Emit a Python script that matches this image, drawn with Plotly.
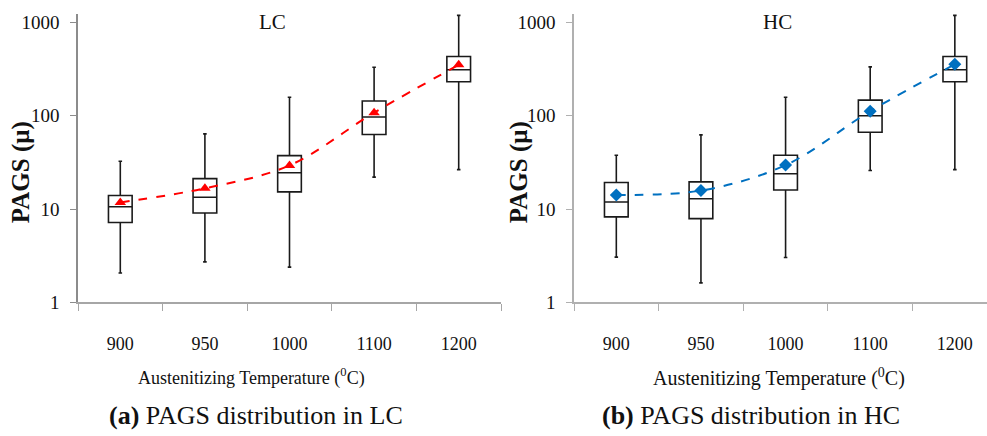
import plotly.graph_objects as go

# ---------------- data ----------------
temps = ["900", "950", "1000", "1100", "1200"]

lc_q1 = [7.2, 9.1, 15.3, 63, 231]
lc_med = [10.6, 13.4, 24.5, 97, 311]
lc_q3 = [14.0, 21.2, 37.4, 144, 432]
lc_lo = [2.07, 2.72, 2.39, 22, 26.5]
lc_hi = [32.6, 64, 158, 331, 1190]
lc_mean = [11.8, 16.7, 29.4, 108, 351]

hc_q1 = [8.25, 7.9, 16.0, 66.5, 231]
hc_med = [11.9, 12.9, 23.9, 100, 311]
hc_q3 = [19.3, 19.6, 37.7, 147, 432]
hc_lo = [3.06, 1.62, 3.03, 25.9, 26.5]
hc_hi = [37.7, 62.4, 158, 334, 1190]
hc_mean = [14.2, 15.8, 29.6, 112, 356]

ytick_vals = [1, 10, 100, 1000]
ytick_text = ["1", "10", "100", "1000"]

panel_titles = ["LC", "HC"]
y_title = "PAGS (μ)"
x_title = "Austenitizing Temperature (<sup>0</sup>C)"
captions = ["<b>(a)</b> PAGS distribution in LC", "<b>(b)</b> PAGS distribution in HC"]

# ---------------- figure ----------------
W, H = 987, 436
FONT = "Liberation Serif, Times New Roman, serif"


def px(x):
    return x / W


def py(y):
    return (H - y) / H


fig = go.Figure()

box_style = dict(
    fillcolor="white",
    line=dict(color="#1a1a1a", width=1.6),
    whiskerwidth=0.15,
    boxpoints=False,
    showlegend=False,
    hoverinfo="skip",
)

fig.add_trace(go.Box(x=temps, q1=lc_q1, median=lc_med, q3=lc_q3,
                     lowerfence=lc_lo, upperfence=lc_hi,
                     xaxis="x", yaxis="y", **box_style))
fig.add_trace(go.Scatter(x=temps, y=lc_mean, mode="lines+markers",
                         line=dict(color="#FF0000", width=2, dash="dash", shape="spline"),
                         marker=dict(symbol="triangle-up", size=10, color="#FF0000"),
                         xaxis="x", yaxis="y", showlegend=False))

fig.add_trace(go.Box(x=temps, q1=hc_q1, median=hc_med, q3=hc_q3,
                     lowerfence=hc_lo, upperfence=hc_hi,
                     xaxis="x2", yaxis="y2", **box_style))
fig.add_trace(go.Scatter(x=temps, y=hc_mean, mode="lines+markers",
                         line=dict(color="#0070C0", width=2, dash="dash", shape="spline"),
                         marker=dict(symbol="diamond", size=10, color="#0070C0"),
                         xaxis="x2", yaxis="y2", showlegend=False))

ydom = [py(310), py(13)]

xaxis_common = dict(
    type="category", categoryorder="array", categoryarray=temps,
    showline=True, linewidth=1.5, showgrid=False, zeroline=False,
    ticks="outside", ticklen=7, tickwidth=1.2, tickson="boundaries",
    tickfont=dict(family=FONT, size=18, color="#111"),
    ticklabelstandoff=24,
)
yaxis_common = dict(
    type="log", range=[0, 3.094], showline=True, linewidth=1.5,
    showgrid=False, zeroline=False, ticks="outside", ticklen=6, tickwidth=1.2,
    tickvals=ytick_vals, ticktext=ytick_text,
    tickfont=dict(family=FONT, size=19, color="#111"),
    ticklabelstandoff=7,
)

fig.update_layout(
    width=W, height=H,
    margin=dict(l=0, r=0, t=0, b=0),
    paper_bgcolor="white", plot_bgcolor="white",
    boxgap=0.6,
    xaxis=dict(domain=[px(78), px(501)], range=[-0.5, 4.5], anchor="y",
               linecolor="#a6a6a6", tickcolor="#a6a6a6", **xaxis_common),
    yaxis=dict(domain=ydom, anchor="x",
               linecolor="#8c8c8c", tickcolor="#8c8c8c", **yaxis_common),
    xaxis2=dict(domain=[px(574), 1.0], range=[-0.5, 4.38], anchor="y2",
                linecolor="#b0b0b0", tickcolor="#b0b0b0", **xaxis_common),
    yaxis2=dict(domain=ydom, anchor="x2",
                linecolor="#b0b0b0", tickcolor="#b0b0b0", **yaxis_common),
)

ann = []
# panel titles
for t, xc in zip(panel_titles, [272, 777]):
    ann.append(dict(text=t, x=px(xc), y=py(22), xref="paper", yref="paper",
                    showarrow=False, xanchor="center", yanchor="middle",
                    font=dict(family=FONT, size=21, color="#111")))
# y titles
for xc in [21, 519]:
    ann.append(dict(text="<b>" + y_title + "</b>", x=px(xc), y=py(176), xref="paper", yref="paper",
                    showarrow=False, textangle=-90, xanchor="center", yanchor="middle",
                    font=dict(family=FONT, size=25, color="#111")))
# x titles
for xc, fs in [(252, 18), (779, 20)]:
    ann.append(dict(text=x_title, x=px(xc), y=py(387), xref="paper", yref="paper",
                    showarrow=False, xanchor="center", yanchor="middle",
                    font=dict(family=FONT, size=fs, color="#111")))
# captions
for c, xc in zip(captions, [256, 751]):
    ann.append(dict(text=c, x=px(xc), y=py(426), xref="paper", yref="paper",
                    showarrow=False, xanchor="center", yanchor="middle",
                    font=dict(family=FONT, size=26, color="#111")))
fig.update_layout(annotations=ann)

fig.write_html("out.html")
